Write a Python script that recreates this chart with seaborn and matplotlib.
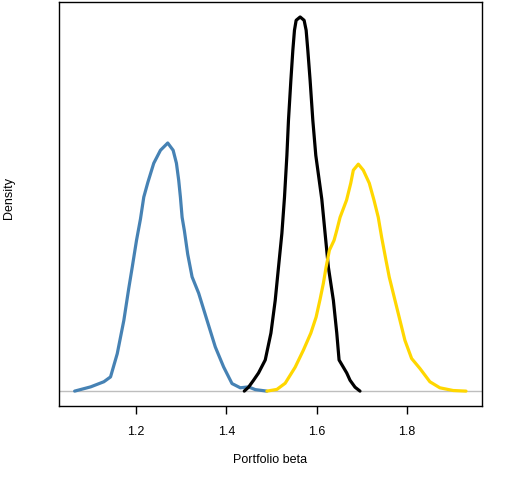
import numpy as np
import pandas as pd
import matplotlib
matplotlib.use("Agg")
import matplotlib.pyplot as plt
import seaborn as sns

# density curves, x = portfolio beta, y = density
blue_x = [1.0635, 1.0989, 1.1283, 1.1431, 1.1580, 1.1726, 1.1836, 1.1912,
          1.2007, 1.2095, 1.2168, 1.2257, 1.2389, 1.2538, 1.2699, 1.2819,
          1.2892, 1.2942, 1.2980, 1.3018, 1.3069, 1.3142, 1.3239, 1.3385,
          1.3571, 1.3754, 1.3938, 1.4124, 1.4308, 1.4491, 1.4639, 1.4896]
blue_y = [0.0, 0.14, 0.31, 0.47, 1.24, 2.34, 3.41, 4.10,
          4.99, 5.70, 6.42, 6.90, 7.54, 7.97, 8.21, 7.97,
          7.54, 6.98, 6.42, 5.75, 5.30, 4.53, 3.78, 3.24,
          2.34, 1.46, 0.80, 0.25, 0.11, 0.14, 0.05, 0.0]

black_x = [1.4396, 1.4491, 1.4602, 1.4712, 1.4861, 1.4987, 1.5082, 1.5155,
           1.5230, 1.5288, 1.5341, 1.5376, 1.5429, 1.5473, 1.5509, 1.5546,
           1.5635, 1.5723, 1.5768, 1.5805, 1.5856, 1.5916, 1.5982, 1.6115,
           1.6188, 1.6261, 1.6372, 1.6447, 1.6498, 1.6668, 1.6741, 1.6852,
           1.6962]
black_y = [0.0, 0.13, 0.36, 0.60, 1.03, 1.92, 3.00, 4.10,
           5.22, 6.42, 7.80, 8.96, 10.28, 11.28, 11.94, 12.27,
           12.38, 12.27, 11.94, 11.28, 10.28, 8.96, 7.80, 6.35,
           5.22, 4.10, 3.00, 1.92, 1.03, 0.60, 0.36, 0.13,
           0.0]

gold_x = [1.4898, 1.5119, 1.5303, 1.5524, 1.5708, 1.5872, 1.5989, 1.6077,
          1.6150, 1.6210, 1.6283, 1.6387, 1.6447, 1.6520, 1.6664, 1.6757,
          1.6814, 1.6925, 1.7035, 1.7168, 1.7272, 1.7367, 1.7442, 1.7538,
          1.7611, 1.7810, 1.7958, 1.8106, 1.8290, 1.8511, 1.8732, 1.9027,
          1.9312]
gold_y = [0.0, 0.056, 0.26, 0.79, 1.36, 1.92, 2.45, 3.04,
          3.57, 4.10, 4.66, 4.99, 5.32, 5.75, 6.32, 6.88,
          7.31, 7.51, 7.31, 6.88, 6.32, 5.75, 5.09, 4.33,
          3.77, 2.57, 1.68, 1.08, 0.75, 0.31, 0.11, 0.02,
          0.0]

sns.set_theme(style="ticks")
plt.rcParams["font.family"] = ["Liberation Sans", "DejaVu Sans"]

fig = plt.figure(figsize=(5.12, 4.8), dpi=100)
ax = fig.add_axes([0.1152, 0.154, 0.8256, 0.8418])

# baseline at zero, like abline(h=0)
ax.axhline(0, color="#bebebe", lw=1, zorder=1)

for xs, ys, col in [(blue_x, blue_y, "steelblue"),
                    (black_x, black_y, "black"),
                    (gold_x, gold_y, "gold")]:
    df = pd.DataFrame({"beta": xs, "density": ys})
    sns.lineplot(data=df, x="beta", y="density", color=col, lw=2.3,
                 estimator=None, ax=ax, zorder=2,
                 solid_capstyle="round", solid_joinstyle="round")

# R style 4% padding
ymax = max(max(blue_y), max(black_y), max(gold_y))
ax.set_xlim(1.0288, 1.966)
ax.set_ylim(-0.04 * ymax, 1.04 * ymax)

ax.set_xticks([1.2, 1.4, 1.6, 1.8])
ax.set_xticklabels(["1.2", "1.4", "1.6", "1.8"])
ax.set_yticks([])
ax.tick_params(axis="x", direction="out", length=6, width=1, color="black",
               labelsize=9, pad=8, labelcolor="black")

for sp in ax.spines.values():
    sp.set_visible(True)
    sp.set_color("black")
    sp.set_linewidth(1)

ax.set_xlabel("Portfolio beta", fontsize=9, labelpad=12, color="black")
ax.set_ylabel("Density", fontsize=9, color="black")
ax.yaxis.set_label_coords(-0.105, 0.515)

fig.savefig("out.png", dpi=100)
